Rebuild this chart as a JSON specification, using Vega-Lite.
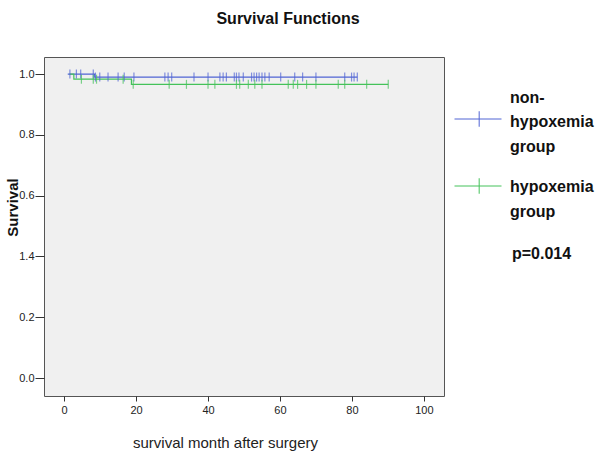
{
  "$schema": "https://vega.github.io/schema/vega-lite/v6.json",
  "width": 400,
  "height": 339,
  "autosize": {"type": "none"},
  "padding": {"left": 44, "top": 57, "right": 156, "bottom": 65},
  "background": "white",
  "config": {
    "view": {"fill": "#f0f0f0", "stroke": "#555555", "strokeWidth": 1},
    "font": "Liberation Sans"
  },
  "title": {
    "text": "Survival Functions",
    "fontSize": 16,
    "fontWeight": "bold",
    "font": "Liberation Sans",
    "color": "#111111",
    "anchor": "middle",
    "dx": 44,
    "offset": 30
  },
  "datasets": {
    "curves": [
      {"group": "non-hypoxemia group", "month": 1.0, "surv": 1.0},
      {"group": "non-hypoxemia group", "month": 8.5, "surv": 0.99},
      {"group": "non-hypoxemia group", "month": 81.5, "surv": 0.99},
      {"group": "hypoxemia group", "month": 1.5, "surv": 1.0},
      {"group": "hypoxemia group", "month": 2.7, "surv": 0.983},
      {"group": "hypoxemia group", "month": 18.7, "surv": 0.966},
      {"group": "hypoxemia group", "month": 90.1, "surv": 0.966}
    ],
    "censored": [
      {"group": "non-hypoxemia group", "month": 1.6, "surv": 1.0},
      {"group": "non-hypoxemia group", "month": 3.4, "surv": 1.0},
      {"group": "non-hypoxemia group", "month": 4.6, "surv": 1.0},
      {"group": "non-hypoxemia group", "month": 8.1, "surv": 1.0},
      {"group": "non-hypoxemia group", "month": 8.7, "surv": 0.99},
      {"group": "non-hypoxemia group", "month": 9.9, "surv": 0.99},
      {"group": "non-hypoxemia group", "month": 12.2, "surv": 0.99},
      {"group": "non-hypoxemia group", "month": 15.0, "surv": 0.99},
      {"group": "non-hypoxemia group", "month": 16.7, "surv": 0.99},
      {"group": "non-hypoxemia group", "month": 19.4, "surv": 0.99},
      {"group": "non-hypoxemia group", "month": 28.0, "surv": 0.99},
      {"group": "non-hypoxemia group", "month": 28.9, "surv": 0.99},
      {"group": "non-hypoxemia group", "month": 29.9, "surv": 0.99},
      {"group": "non-hypoxemia group", "month": 36.1, "surv": 0.99},
      {"group": "non-hypoxemia group", "month": 40.0, "surv": 0.99},
      {"group": "non-hypoxemia group", "month": 43.3, "surv": 0.99},
      {"group": "non-hypoxemia group", "month": 44.2, "surv": 0.99},
      {"group": "non-hypoxemia group", "month": 45.1, "surv": 0.99},
      {"group": "non-hypoxemia group", "month": 47.3, "surv": 0.99},
      {"group": "non-hypoxemia group", "month": 47.9, "surv": 0.99},
      {"group": "non-hypoxemia group", "month": 48.6, "surv": 0.99},
      {"group": "non-hypoxemia group", "month": 49.8, "surv": 0.99},
      {"group": "non-hypoxemia group", "month": 52.1, "surv": 0.99},
      {"group": "non-hypoxemia group", "month": 52.8, "surv": 0.99},
      {"group": "non-hypoxemia group", "month": 53.5, "surv": 0.99},
      {"group": "non-hypoxemia group", "month": 54.2, "surv": 0.99},
      {"group": "non-hypoxemia group", "month": 55.0, "surv": 0.99},
      {"group": "non-hypoxemia group", "month": 55.8, "surv": 0.99},
      {"group": "non-hypoxemia group", "month": 57.0, "surv": 0.99},
      {"group": "non-hypoxemia group", "month": 60.2, "surv": 0.99},
      {"group": "non-hypoxemia group", "month": 64.1, "surv": 0.99},
      {"group": "non-hypoxemia group", "month": 66.3, "surv": 0.99},
      {"group": "non-hypoxemia group", "month": 70.0, "surv": 0.99},
      {"group": "non-hypoxemia group", "month": 78.0, "surv": 0.99},
      {"group": "non-hypoxemia group", "month": 79.9, "surv": 0.99},
      {"group": "non-hypoxemia group", "month": 80.6, "surv": 0.99},
      {"group": "non-hypoxemia group", "month": 81.5, "surv": 0.99},
      {"group": "hypoxemia group", "month": 4.8, "surv": 0.983},
      {"group": "hypoxemia group", "month": 8.1, "surv": 0.983},
      {"group": "hypoxemia group", "month": 9.0, "surv": 0.983},
      {"group": "hypoxemia group", "month": 16.4, "surv": 0.983},
      {"group": "hypoxemia group", "month": 19.2, "surv": 0.966},
      {"group": "hypoxemia group", "month": 29.2, "surv": 0.966},
      {"group": "hypoxemia group", "month": 34.0, "surv": 0.966},
      {"group": "hypoxemia group", "month": 40.0, "surv": 0.966},
      {"group": "hypoxemia group", "month": 41.9, "surv": 0.966},
      {"group": "hypoxemia group", "month": 47.9, "surv": 0.966},
      {"group": "hypoxemia group", "month": 48.8, "surv": 0.966},
      {"group": "hypoxemia group", "month": 51.2, "surv": 0.966},
      {"group": "hypoxemia group", "month": 53.0, "surv": 0.966},
      {"group": "hypoxemia group", "month": 55.0, "surv": 0.966},
      {"group": "hypoxemia group", "month": 62.3, "surv": 0.966},
      {"group": "hypoxemia group", "month": 63.7, "surv": 0.966},
      {"group": "hypoxemia group", "month": 64.9, "surv": 0.966},
      {"group": "hypoxemia group", "month": 67.4, "surv": 0.966},
      {"group": "hypoxemia group", "month": 70.0, "surv": 0.966},
      {"group": "hypoxemia group", "month": 76.2, "surv": 0.966},
      {"group": "hypoxemia group", "month": 78.0, "surv": 0.966},
      {"group": "hypoxemia group", "month": 84.1, "surv": 0.966},
      {"group": "hypoxemia group", "month": 90.1, "surv": 0.966}
    ],
    "note": [
      {"label": "p=0.014", "month": 124.5, "surv": 0.408}
    ]
  },
  "layer": [
    {
      "data": {"name": "curves"},
      "mark": {"type": "line", "interpolate": "step-after", "strokeWidth": 1.2},
      "encoding": {
        "x": {
          "field": "month",
          "type": "quantitative",
          "scale": {"domain": [-5.6, 105.6], "nice": false, "zero": false},
          "axis": {
            "values": [0, 20, 40, 60, 80, 100],
            "domain": false,
            "grid": false,
            "tickSize": 5,
            "tickColor": "#333333",
            "labelPadding": 3,
            "labelFontSize": 11,
            "labelColor": "#222222",
            "title": "survival month after surgery",
            "titleFontSize": 15,
            "titleFontWeight": "normal",
            "titleColor": "#222222",
            "titleX": 181,
            "titleY": 46,
            "titleBaseline": "middle",
            "titleAlign": "center"
          }
        },
        "y": {
          "field": "surv",
          "type": "quantitative",
          "scale": {"domain": [-0.059, 1.056], "nice": false, "zero": false},
          "axis": {
            "values": [0, 0.2, 0.4, 0.6, 0.8, 1.0],
            "format": ".1f",
            "labelExpr": "datum.value == 0.4 ? '1.4' : datum.label",
            "domain": false,
            "grid": false,
            "tickSize": 9,
            "tickColor": "#333333",
            "labelPadding": 1,
            "labelFontSize": 11,
            "labelColor": "#222222",
            "title": "Survival",
            "titleFontSize": 15,
            "titleFontWeight": "bold",
            "titleColor": "#111111",
            "titleAngle": 270,
            "titleX": -32,
            "titleY": 150,
            "titleBaseline": "middle",
            "titleAlign": "center"
          }
        },
        "color": {
          "field": "group",
          "type": "nominal",
          "scale": {
            "domain": ["non-hypoxemia group", "hypoxemia group"],
            "range": ["#5064d4", "#44c25a"]
          },
          "legend": {
            "orient": "none",
            "legendX": 410,
            "legendY": 38,
            "title": null,
            "padding": 0,
            "symbolType": "M-1,0H1M0.05,-0.33V0.33",
            "symbolSize": 2209,
            "symbolStrokeWidth": 1,
            "labelFontSize": 16,
            "labelFontWeight": "bold",
            "labelColor": "#111111",
            "labelOffset": 8,
            "labelLimit": 200,
            "labelBaseline": "middle",
            "rowPadding": 7,
            "labelExpr": "datum.value == 'non-hypoxemia group' ? ['non-', 'hypoxemia', 'group'] : ['hypoxemia', 'group']",
            "encode": {
              "labels": {
                "update": {
                  "lineHeight": {"value": 24.5},
                  "dy": {"signal": "datum.value == 'non-hypoxemia group' ? -21.5 : 1"}
                }
              }
            }
          }
        }
      }
    },
    {
      "data": {"name": "censored"},
      "mark": {"type": "tick", "orient": "vertical", "size": 9, "thickness": 1.2},
      "encoding": {
        "x": {"field": "month", "type": "quantitative"},
        "y": {"field": "surv", "type": "quantitative"},
        "color": {"field": "group", "type": "nominal", "legend": null}
      }
    },
    {
      "data": {"name": "note"},
      "mark": {"type": "text", "align": "left", "baseline": "middle", "fontSize": 16, "fontWeight": "bold", "color": "#111111"},
      "encoding": {
        "x": {"field": "month", "type": "quantitative"},
        "y": {"field": "surv", "type": "quantitative"},
        "text": {"field": "label"}
      }
    }
  ]
}
